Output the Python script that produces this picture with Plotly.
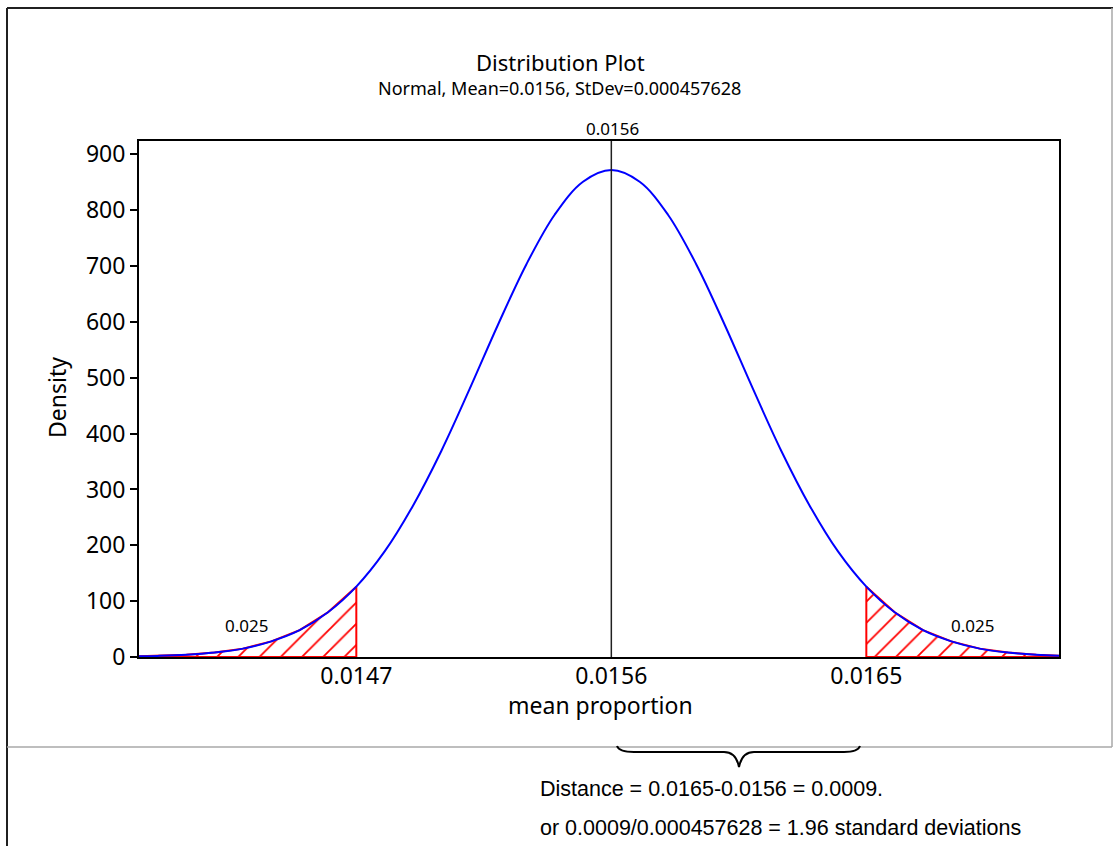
import plotly.graph_objects as go

# ---- data ----
x_vals = [0.0139, 0.0140, 0.0141, 0.0142, 0.0143, 0.0144, 0.0145, 0.0146, 0.0147,
          0.0148, 0.0149, 0.0150, 0.0151, 0.0152, 0.0153, 0.0154, 0.0155, 0.0156,
          0.0157, 0.0158, 0.0159, 0.0160, 0.0161, 0.0162, 0.0163, 0.0164, 0.0165,
          0.0166, 0.0167, 0.0168, 0.0169, 0.0170, 0.0171, 0.0172]
density = [1, 2, 4, 8, 15, 28, 48, 80, 126,
           189, 271, 369, 480, 595, 703, 792, 851, 872,
           851, 792, 703, 595, 480, 369, 271, 189, 126,
           80, 48, 28, 15, 8, 4, 2]
mean_value = 0.0156
lower_crit = 0.0147
upper_crit = 0.0165
tail_label = "0.025"
x_tick_vals = [0.0147, 0.0156, 0.0165]
x_tick_text = ["0.0147", "0.0156", "0.0165"]
y_tick_vals = [0, 100, 200, 300, 400, 500, 600, 700, 800, 900]
title_text = "Distribution Plot"
subtitle_text = "Normal, Mean=0.0156, StDev=0.000457628"
x_title = "mean proportion"
y_title = "Density"
note_lines = ["Distance = 0.0165-0.0156 = 0.0009.",
              "or 0.0009/0.000457628 = 1.96 standard deviations"]

# ---- layout geometry (pixels) ----
W, H = 1115, 846
ML, MR, MT, MB = 139, 56, 141, 189
PW, PH = W - ML - MR, H - MT - MB


def px(x):
    return (x - ML) / PW


def py(y):
    return (H - MB - y) / PH


FONT = "Noto Sans"

fig = go.Figure()

# tails
eps = 1e-12
lx = [x for x in x_vals if x <= lower_crit + eps]
ly = [d for x, d in zip(x_vals, density) if x <= lower_crit + eps]
ux = [x for x in x_vals if x >= upper_crit - eps]
uy = [d for x, d in zip(x_vals, density) if x >= upper_crit - eps]

tails = [
    (lx + [lower_crit, lx[0]], ly + [0, 0]),
    ([upper_crit] + ux + [ux[-1], upper_crit], [0] + uy + [0, 0]),
]
for polx, poly in tails:
    fig.add_trace(go.Scatter(
        x=polx, y=poly, mode="lines", fill="toself",
        line=dict(color="#ff0000", width=2),
        fillcolor="white",
        fillpattern=dict(shape="/", fgcolor="#ff0000", bgcolor="white",
                         fgopacity=1, size=15, solidity=0.12),
        hoverinfo="skip", showlegend=False))

# density curve
fig.add_trace(go.Scatter(
    x=x_vals, y=density, mode="lines",
    line=dict(color="#0000ff", width=2, shape="spline"),
    showlegend=False))

shapes = []
# mean line
shapes.append(dict(type="line", xref="x", yref="paper", x0=mean_value, x1=mean_value,
                   y0=0, y1=1, line=dict(color="#202020", width=1.5), layer="above"))
# outer frame
shapes.append(dict(type="line", xref="paper", yref="paper", x0=px(7), x1=px(1113),
                   y0=py(8), y1=py(8), line=dict(color="#202020", width=2)))
shapes.append(dict(type="line", xref="paper", yref="paper", x0=px(7), x1=px(7),
                   y0=py(8), y1=py(846), line=dict(color="#202020", width=2)))
shapes.append(dict(type="line", xref="paper", yref="paper", x0=px(1112), x1=px(1112),
                   y0=py(8), y1=py(747), line=dict(color="#a8a8a8", width=1.5)))
shapes.append(dict(type="line", xref="paper", yref="paper", x0=px(7), x1=px(1112),
                   y0=py(747), y1=py(747), line=dict(color="#a8a8a8", width=1.5)))

# brace
pts = [("M", 617, 746), ("Q", 619, 752, 634, 752), ("L", 724, 752),
       ("Q", 736, 752, 739, 767), ("Q", 742, 752, 754, 752), ("L", 844, 752),
       ("Q", 858, 752, 860, 746)]
path = ""
for p in pts:
    cmd = p[0]
    coords = p[1:]
    seg = []
    for i in range(0, len(coords), 2):
        seg.append(f"{px(coords[i]):.5f},{py(coords[i + 1]):.5f}")
    path += cmd + " " + " ".join(seg) + " "
shapes.append(dict(type="path", xref="paper", yref="paper", path=path.strip(),
                   line=dict(color="black", width=2)))


def ann(text, x, y, size, family=FONT, xanchor="center", textangle=0):
    return dict(text=text, x=px(x), y=py(y), xref="paper", yref="paper",
                xanchor=xanchor, yanchor="middle", showarrow=False, textangle=textangle,
                font=dict(family=family, size=size, color="black"))


annotations = [
    ann(title_text, 560, 62, 22),
    ann(subtitle_text, 559, 88, 18),
    ann("0.0156", 612, 129, 17),
    ann(tail_label, 246, 625, 17),
    ann(tail_label, 972, 625, 17),
    ann(x_title, 600, 705, 23),
    ann(y_title, 57, 398, 23, textangle=-90),
    ann(note_lines[0], 538, 789, 21.5, family="Liberation Sans", xanchor="left"),
    ann(note_lines[1], 538, 828, 21.5, family="Liberation Sans", xanchor="left"),
]

fig.update_layout(
    width=W, height=H,
    margin=dict(l=ML, r=MR, t=MT, b=MB, pad=0),
    paper_bgcolor="white", plot_bgcolor="white",
    shapes=shapes, annotations=annotations,
    showlegend=False,
    font=dict(family=FONT, color="black"),
)
fig.update_xaxes(
    range=[0.013933, 0.01718], showgrid=False, zeroline=False,
    showline=True, mirror=True, linecolor="black", linewidth=2,
    tickvals=x_tick_vals, ticktext=x_tick_text, ticks="",
    tickfont=dict(family=FONT, size=23, color="black"),
    ticklabelstandoff=-3,
    layer="below traces",
)
fig.update_yaxes(
    range=[0, 924], showgrid=False, zeroline=False,
    showline=True, mirror=True, linecolor="black", linewidth=2,
    tickvals=y_tick_vals, ticks="outside", ticklen=7, tickwidth=1.5, tickcolor="black",
    tickfont=dict(family=FONT, size=23, color="black"),
    layer="below traces",
)

fig.write_html("out.html", config={"displayModeBar": False},
               post_script="document.body.style.margin='0';")
